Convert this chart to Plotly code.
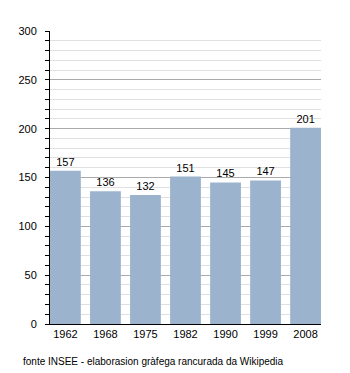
import plotly.graph_objects as go

years = ["1962", "1968", "1975", "1982", "1990", "1999", "2008"]
population = [157, 136, 132, 151, 145, 147, 201]
y_ticks = [0, 50, 100, 150, 200, 250, 300]
source_note = "fonte INSEE - elaborasion gràfega rancurada da Wikipedia"

bar_color = "#9bb3cc"
font_family = "Liberation Sans, Arial, sans-serif"

fig = go.Figure(
    go.Bar(
        x=years,
        y=population,
        marker=dict(color=bar_color, line=dict(width=0)),
        width=0.77,
        text=population,
        textposition="outside",
        textfont=dict(size=11, color="#000000", family=font_family),
        cliponaxis=False,
    )
)

fig.update_layout(
    width=350,
    height=373,
    margin=dict(l=50, r=29, t=31, b=49),
    paper_bgcolor="white",
    plot_bgcolor="white",
    showlegend=False,
    font=dict(family=font_family, size=11, color="#000000"),
    bargap=0.23,
)

fig.update_xaxes(
    type="category",
    range=[-0.385, 6.385],
    showline=True,
    linecolor="#000000",
    linewidth=1,
    ticks="",
    showgrid=False,
    tickfont=dict(size=11),
)

fig.update_yaxes(
    range=[0, 300],
    tickvals=y_ticks,
    showline=True,
    linecolor="#000000",
    linewidth=1,
    ticks="outside",
    ticklen=4,
    tickcolor="#000000",
    ticklabelstandoff=6,
    showgrid=True,
    gridcolor="#aaaaaa",
    gridwidth=1,
    zeroline=False,
    tickfont=dict(size=11),
    minor=dict(
        dtick=10,
        showgrid=True,
        gridcolor="#e0e0e0",
        gridwidth=1,
        ticks="outside",
        ticklen=4,
        tickcolor="#000000",
    ),
)

fig.add_annotation(
    text=source_note,
    xref="paper",
    yref="paper",
    x=-0.108,
    y=-0.128,
    xanchor="left",
    yanchor="middle",
    showarrow=False,
    font=dict(size=10, color="#000000"),
)

fig.write_html("out.html")
